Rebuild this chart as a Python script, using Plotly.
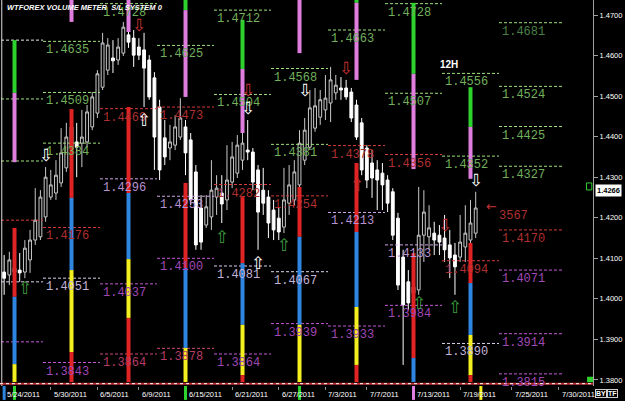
import plotly.graph_objects as go

# ---------------- data ----------------
bars = list(range(92))
opens = [1.4066, 1.4059, 1.4066, 1.4071, 1.4066, 1.4096, 1.4145, 1.4153, 1.4202, 1.4251,
         1.4261, 1.4286, 1.4323, 1.4374, 1.4387, 1.4384, 1.4387, 1.4424, 1.4458, 1.4522,
         1.4564, 1.4594, 1.4589, 1.4606, 1.4651, 1.4643, 1.4621, 1.4614, 1.4589, 1.4545,
         1.4473, 1.4397, 1.4372, 1.4379, 1.4399, 1.4424, 1.4392, 1.4313, 1.4224, 1.4182,
         1.4202, 1.4251, 1.4261, 1.4244, 1.4288, 1.4310, 1.4342, 1.4367, 1.4362, 1.4318,
         1.4268, 1.4251, 1.4219, 1.4199, 1.4177, 1.4236, 1.4244, 1.4281, 1.4342, 1.4374,
         1.4421, 1.4448, 1.4466, 1.4483, 1.4508, 1.4520, 1.4520, 1.4510, 1.4478, 1.4434,
         1.4372, 1.4335, 1.4318, 1.4310, 1.4293, 1.4264, 1.4199, 1.4103, 1.4042, 1.4014,
         1.4022, 1.4157, 1.4153, 1.4162, 1.4157, 1.4150, 1.4133, 1.4108, 1.4103, 1.4128,
         1.4145, 1.4162]
highs = [1.4108, 1.4116, 1.4101, 1.4113, 1.4145, 1.4170, 1.4273, 1.4268, 1.4325, 1.4318,
         1.4342, 1.4421, 1.4434, 1.4446, 1.4434, 1.4466, 1.4478, 1.4510, 1.4564, 1.4656,
         1.4643, 1.4638, 1.4643, 1.4683, 1.4688, 1.4663, 1.4643, 1.4656, 1.4601, 1.4559,
         1.4491, 1.4441, 1.4429, 1.4453, 1.4495, 1.4441, 1.4409, 1.4330, 1.4256, 1.4256,
         1.4342, 1.4305, 1.4305, 1.4379, 1.4387, 1.4404, 1.4416, 1.4441, 1.4372, 1.4330,
         1.4323, 1.4268, 1.4244, 1.4224, 1.4323, 1.4330, 1.4342, 1.4416, 1.4446, 1.4515,
         1.4520, 1.4515, 1.4552, 1.4572, 1.4552, 1.4547, 1.4540, 1.4520, 1.4491, 1.4446,
         1.4379, 1.4367, 1.4342, 1.4335, 1.4305, 1.4273, 1.4212, 1.4121, 1.4071, 1.4096,
         1.4276, 1.4268, 1.4231, 1.4190, 1.4182, 1.4207, 1.4170, 1.4138, 1.4207, 1.4231,
         1.4244, 1.4264]
lows = [1.4010, 1.4034, 1.4047, 1.4042, 1.4051, 1.4064, 1.4133, 1.4145, 1.4190, 1.4244,
        1.4244, 1.4276, 1.4313, 1.4355, 1.4300, 1.4325, 1.4374, 1.4416, 1.4446, 1.4515,
        1.4552, 1.4557, 1.4577, 1.4599, 1.4619, 1.4572, 1.4589, 1.4473, 1.4491, 1.4318,
        1.4293, 1.4330, 1.4342, 1.4367, 1.4392, 1.4305, 1.4231, 1.4121, 1.4121, 1.4175,
        1.4170, 1.4207, 1.4187, 1.4219, 1.4273, 1.4298, 1.4318, 1.4342, 1.4268, 1.4121,
        1.4207, 1.4150, 1.4145, 1.4145, 1.4162, 1.4207, 1.4231, 1.4268, 1.4330, 1.4367,
        1.4412, 1.4429, 1.4441, 1.4436, 1.4491, 1.4491, 1.4491, 1.4436, 1.4392, 1.4305,
        1.4273, 1.4249, 1.4219, 1.4219, 1.4214, 1.4145, 1.4022, 1.3837, 1.3973, 1.3997,
        1.4010, 1.4091, 1.4121, 1.4108, 1.4108, 1.4091, 1.4051, 1.4010, 1.4091, 1.4091,
        1.4133, 1.4150]
closes = [1.4051, 1.4096, 1.4076, 1.4064, 1.4125, 1.4145, 1.4194, 1.4251, 1.4300, 1.4281,
          1.4305, 1.4360, 1.4399, 1.4424, 1.4374, 1.4399, 1.4461, 1.4498, 1.4555, 1.4631,
          1.4626, 1.4587, 1.4621, 1.4670, 1.4633, 1.4601, 1.4601, 1.4569, 1.4498, 1.4399,
          1.4318, 1.4350, 1.4387, 1.4424, 1.4446, 1.4360, 1.4244, 1.4133, 1.4140, 1.4227,
          1.4268, 1.4273, 1.4234, 1.4293, 1.4350, 1.4379, 1.4384, 1.4362, 1.4288, 1.4214,
          1.4236, 1.4187, 1.4170, 1.4165, 1.4244, 1.4281, 1.4313, 1.4384, 1.4416, 1.4471,
          1.4476, 1.4491, 1.4495, 1.4540, 1.4527, 1.4515, 1.4498, 1.4446, 1.4399, 1.4318,
          1.4293, 1.4298, 1.4293, 1.4281, 1.4236, 1.4157, 1.4034, 1.3985, 1.3990, 1.4029,
          1.4157, 1.4214, 1.4175, 1.4145, 1.4140, 1.4121, 1.4101, 1.4079, 1.4140, 1.4162,
          1.4187, 1.4224]

date_bars = [0, 9, 18, 26, 35, 44, 53, 62, 70, 79, 88, 98, 107]
date_labels = ["5/24/2011", "5/30/2011", "6/5/2011", "6/9/2011", "6/15/2011", "6/21/2011",
               "6/27/2011", "7/3/2011", "7/7/2011", "7/13/2011", "7/19/2011", "7/25/2011",
               "7/30/2011"]
price_ticks = [1.38, 1.39, 1.40, 1.41, 1.42, 1.43, 1.44, 1.45, 1.46, 1.47]
last_price = 1.4266

# weekly pivot periods (bar index boundaries)
week_start = [-3.5, 7.5, 18.5, 29.5, 40.5, 51.5, 62.5, 73.5, 84.5, 95.5]
week_end = [7.5, 18.5, 29.5, 40.5, 51.5, 62.5, 73.5, 84.5, 95.5, 107.9]

# levels: week, price, kind, label
lvl_week = [0, 0, 0, 0, 0, 0,
            1, 1, 1, 1, 1, 1,
            2, 2, 2, 2, 2,
            3, 3, 3, 3, 3,
            4, 4, 4, 4, 4,
            5, 5, 5, 5, 5,
            6, 6, 6, 6,
            7, 7, 7, 7, 7,
            8, 8, 8, 8,
            9, 9, 9, 9, 9, 9, 9, 9]
lvl_price = [1.4638, 1.4493, 1.4340, 1.4194, 1.4042, 1.3894,
             1.4635, 1.4509, 1.4384, 1.4176, 1.4051, 1.3843,
             1.4728, 1.4469, 1.4296, 1.4037, 1.3864,
             1.4625, 1.4473, 1.4253, 1.4100, 1.3878,
             1.4712, 1.4504, 1.4282, 1.4081, 1.3864,
             1.4568, 1.4381, 1.4254, 1.4067, 1.3939,
             1.4663, 1.4378, 1.4213, 1.3933,
             1.4728, 1.4507, 1.4356, 1.4133, 1.3984,
             1.4556, 1.4352, 1.4094, 1.3890,
             1.4681, 1.4524, 1.4425, 1.4327, 1.4170, 1.4071, 1.3914, 1.3815]
lvl_kind = ['w', 'g', 'g', 'r', 'lv', 'm',
            'g', 'g', 'g', 'r', 'lv', 'm',
            'g', 'r', 'lv2', 'm', 'pr',
            'g', 'r', 'lv2', 'm', 'pr',
            'g', 'g', 'r', 'lv', 'm',
            'g', 'g', 'r', 'lv', 'm',
            'g', 'r', 'lv2', 'm',
            'g', 'g', 'r', 'lv2', 'm',
            'g', 'g', 'r', 'lv',
            'gd', 'g', 'g', 'g', 'r', 'm', 'm', 'm']
lvl_label = ['', '', '', '', '', '',
             '1.4635', '1.4509', '1.4384', '1.4176', '1.4051', '1.3843',
             '1.4728', '1.4469', '1.4296', '1.4037', '1.3864',
             '1.4625', '1.4473', '1.4253', '1.4100', '1.3878',
             '1.4712', '1.4504', '1.4282', '1.4081', '1.3864',
             '1.4568', '1.4381', '1.4254', '1.4067', '1.3939',
             '1.4663', '1.4378', '1.4213', '1.3933',
             '1.4728', '1.4507', '1.4356', '1.4133', '1.3984',
             '1.4556', '1.4352', '1.4094', '1.3890',
             '1.4681', '1.4524', '1.4425', '1.4327', '1.4170', '1.4071', '1.3914', '1.3815']

# volume meter columns: bar, list of (kind, top, bottom)
meter_bar = [2, 13, 24, 35, 46, 57, 68, 79, 90]
meter_segments = [
    [('g', 1.4638, 1.4508), ('p', 1.4508, 1.4337), ('r', 1.4175, 1.4005), ('b', 1.4005, 1.3839), ('y', 1.3839, 1.3795)],
    [('p', 1.4760, 1.4683), ('r', 1.4468, 1.4249), ('b', 1.4249, 1.4071), ('y', 1.4071, 1.3869), ('r', 1.3869, 1.3795)],
    [('p', 1.4760, 1.4658), ('r', 1.4473, 1.4261), ('b', 1.4261, 1.4098), ('y', 1.4098, 1.3953), ('r', 1.3953, 1.3795)],
    [('g', 1.4760, 1.4712), ('p', 1.4712, 1.4498), ('r', 1.4286, 1.4076), ('b', 1.4076, 1.3879), ('y', 1.3879, 1.3795)],
    [('g', 1.4688, 1.4567), ('p', 1.4567, 1.4409), ('r', 1.4251, 1.4088), ('b', 1.4088, 1.3936), ('y', 1.3936, 1.3812), ('r', 1.3812, 1.3795)],
    [('p', 1.4760, 1.4606), ('r', 1.4276, 1.4153), ('b', 1.4153, 1.3936), ('y', 1.3936, 1.3795)],
    [('g', 1.4760, 1.4730), ('p', 1.4730, 1.4540), ('r', 1.4335, 1.4165), ('b', 1.4165, 1.3980), ('y', 1.3980, 1.3837), ('r', 1.3837, 1.3795)],
    [('g', 1.4730, 1.4555), ('p', 1.4555, 1.4320), ('r', 1.4113, 1.3854), ('b', 1.3854, 1.3795)],
    [('g', 1.4522, 1.4424), ('p', 1.4424, 1.4296), ('r', 1.4138, 1.4039), ('b', 1.4039, 1.3911), ('y', 1.3911, 1.3812), ('r', 1.3812, 1.3795)],
]
marker_bar = [0, 2, 35, 57, 79, 92]
marker_kind = ['b', 'g', 'g', 'g', 'p', 'y']

# signal arrows
arrow_bar = [4, 8, 26, 27, 47, 47, 42, 49, 58, 54, 66, 68, 85, 80, 87, 91]
arrow_price = [1.4027, 1.4355, 1.4675, 1.4441, 1.4515, 1.4471, 1.4153, 1.4088, 1.4515, 1.4133,
               1.4569, 1.4281, 1.4182, 1.3990, 1.3980, 1.4293]
arrow_dir = ['up', 'down', 'down', 'up', 'down', 'down', 'up', 'up', 'down', 'up',
             'down', 'up', 'down', 'up', 'up', 'down']
arrow_kind = ['ag', 'aw', 'ar', 'aw', 'ar', 'aw', 'ag', 'aw', 'aw', 'ag',
              'ar', 'ar', 'ar', 'ag', 'ag', 'aw']

# ---------------- styles ----------------
line_col = {'w': '#e8e8e8', 'g': '#9ee27e', 'gd': '#9ee27e', 'r': '#d83a3a', 'lv': '#ddd0f0',
            'lv2': '#d0a8e8', 'm': '#c45ad8', 'pr': '#d04a7a'}
text_col = {'w': '#e8e8e8', 'g': '#72b05c', 'gd': '#4a8046', 'r': '#b03030', 'lv': '#c4b4da',
            'lv2': '#b893d0', 'm': '#a048b6', 'pr': '#b83c64'}
meter_col = {'g': '#2ed22e', 'p': '#e07ee0', 'r': '#e02424', 'b': '#2f86e0', 'y': '#f4f020'}
arrow_col = {'aw': '#ffffff', 'ar': '#c83030', 'ag': '#3fa03f'}
LCD = "Liberation Mono"

fig = go.Figure()
fig.add_trace(go.Candlestick(
    x=bars, open=opens, high=highs, low=lows, close=closes,
    increasing=dict(line=dict(color='#c8c8c8', width=1), fillcolor='#000000'),
    decreasing=dict(line=dict(color='#ffffff', width=1), fillcolor='#ffffff'),
    whiskerwidth=0, showlegend=False, hoverinfo='skip'))

shapes = []
annotations = []

# pivot level lines + labels
for w, pr, k, lab in zip(lvl_week, lvl_price, lvl_kind, lvl_label):
    shapes.append(dict(type='line', xref='x', yref='y', x0=week_start[w], x1=week_end[w],
                       y0=pr, y1=pr, line=dict(color=line_col[k], width=1, dash='3px,2px'),
                       layer='above'))
    if lab:
        annotations.append(dict(x=week_start[w], y=pr, xref='x', yref='y', text=lab,
                                showarrow=False, xanchor='left', yanchor='top', xshift=1, yshift=0,
                                font=dict(family=LCD, size=12, color=text_col[k])))

# volume meter columns
for b, segs in zip(meter_bar, meter_segments):
    for k, top, bot in segs:
        shapes.append(dict(type='line', xref='x', yref='y', x0=b, x1=b, y0=bot, y1=top,
                           line=dict(color=meter_col[k], width=4), layer='above'))

# markers under the axis
for b, k in zip(marker_bar, marker_kind):
    shapes.append(dict(type='line', xref='x', yref='paper', x0=b, x1=b, y0=-0.036, y1=0,
                       line=dict(color=meter_col[k], width=3), layer='above'))

# arrows
for b, pr, d, k in zip(arrow_bar, arrow_price, arrow_dir, arrow_kind):
    annotations.append(dict(x=b, y=pr, xref='x', yref='y', text='⇩' if d == 'down' else '⇧',
                            showarrow=False, font=dict(family='DejaVu Sans', size=17,
                                                      color=arrow_col[k])))

# price marker near the last candle
annotations.append(dict(x=92.6, y=1.4227, xref='x', yref='y', text='←', showarrow=False,
                        xanchor='left', font=dict(family='DejaVu Sans', size=13, color='#c83030')))
annotations.append(dict(x=95.2, y=1.4227, xref='x', yref='y', text='3567', showarrow=False,
                        xanchor='left', yanchor='top', font=dict(family=LCD, size=12, color='#b03030')))

# left separator and bottom line
shapes.append(dict(type='line', xref='paper', yref='paper', x0=0.003, x1=0.003, y0=0, y1=1,
                   line=dict(color='#e0e0e0', width=1), layer='above'))
shapes.append(dict(type='line', xref='paper', yref='paper', x0=0, x1=1, y0=0.006, y1=0.006,
                   line=dict(color='#c03030', width=2), layer='above'))
shapes.append(dict(type='line', xref='paper', yref='paper', x0=0, x1=1, y0=0.006, y1=0.006,
                   line=dict(color='#ffffff', width=1, dash='3px,3px'), layer='above'))

# small green boxes at right
shapes.append(dict(type='rect', xref='paper', yref='paper', x0=0.989, x1=0.998, y0=0.508, y1=0.526,
                   line=dict(color='#2ed22e', width=1), fillcolor='#000000', layer='above'))
shapes.append(dict(type='rect', xref='paper', yref='paper', x0=0.990, x1=1.0, y0=0.010, y1=0.024,
                   line=dict(color='#2ed22e', width=0), fillcolor='#2ed22e', layer='above'))

# date labels
for b, lab in zip(date_bars, date_labels):
    annotations.append(dict(x=b, y=0, xref='x', yref='paper', text=lab, showarrow=False,
                            xanchor='left', yanchor='top', xshift=1, yshift=-2,
                            font=dict(family='Arial', size=7.5, color='#ffffff')))

# title, timeframe
annotations.append(dict(x=0.008, y=1, xref='paper', yref='paper',
                        text='<b><i>WTFOREX VOLUME METER  S/L SYSTEM 0</i></b>', showarrow=False,
                        xanchor='left', yanchor='top', yshift=-1,
                        font=dict(family='Arial', size=7.5, color='#ffffff')))
annotations.append(dict(x=0.776, y=0.852, xref='paper', yref='paper', text='<b>12H</b>',
                        showarrow=False, font=dict(family='Arial', size=10, color='#ffffff')))

# last price tag
annotations.append(dict(x=1, y=last_price, xref='paper', yref='y', text='<b>1.4266</b>',
                        showarrow=False, xanchor='left', xshift=2, bgcolor='#ffffff', borderpad=1,
                        font=dict(family='Arial', size=7.5, color='#000000')))
# BY / TF buttons
annotations.append(dict(x=1, y=0, xref='paper', yref='paper', text='<b>BY</b>', showarrow=False,
                        xanchor='left', yanchor='top', xshift=2, yshift=-3, bordercolor='#d0d0d0',
                        borderwidth=1, borderpad=0, font=dict(family='Arial', size=7, color='#ffffff')))
annotations.append(dict(x=1, y=0, xref='paper', yref='paper', text='<b>TF</b>', showarrow=False,
                        xanchor='left', yanchor='top', xshift=14, yshift=-3, bordercolor='#d0d0d0',
                        borderwidth=1, borderpad=0, font=dict(family='Arial', size=7, color='#ffffff')))

fig.update_layout(
    width=625, height=401,
    margin=dict(l=0, r=32, t=0, b=15),
    paper_bgcolor='#000000', plot_bgcolor='#000000',
    showlegend=False, boxgap=0.22,
    shapes=shapes, annotations=annotations,
    xaxis=dict(range=[-0.8, 113.64], showgrid=False, zeroline=False, rangeslider=dict(visible=False),
               tickvals=date_bars, ticks='outside', ticklen=3, tickcolor='#909090',
               showticklabels=False, showline=False),
    yaxis=dict(range=[1.37851, 1.4737], side='right', tickvals=price_ticks, tickformat='.4f',
               ticks='outside', ticklen=4, tickcolor='#a0a0a0', showline=True, linecolor='#a0a0a0',
               showgrid=False, zeroline=False,
               tickfont=dict(family='Arial', size=7.5, color='#ffffff')),
)

fig.write_html("out.html")
